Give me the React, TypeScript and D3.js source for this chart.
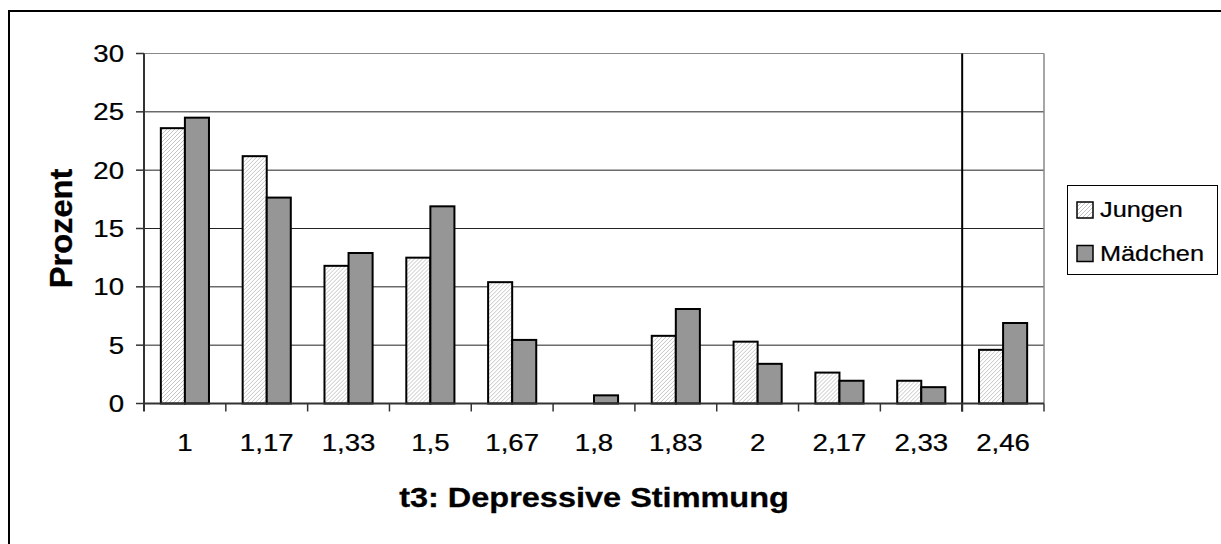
import React from "react";
import * as d3 from "d3";

const width = 1221;
const height = 544;
const plot = { left: 144, right: 1044, top: 53.5, bottom: 403.5 };

const categories = ["1", "1,17", "1,33", "1,5", "1,67", "1,8", "1,83", "2", "2,17", "2,33", "2,46"];
const jungen = [23.6, 21.2, 11.8, 12.5, 10.4, 0, 5.8, 5.3, 2.65, 1.95, 4.6];
const maedchen = [24.5, 17.65, 12.9, 16.9, 5.45, 0.7, 8.1, 3.4, 1.95, 1.4, 6.9];
const seriesNames = ["Jungen", "Mädchen"];
const yTicks = [0, 5, 10, 15, 20, 25, 30];
// a black divider is drawn before this category
const dividerBefore = "2,46";

const font = "'Liberation Sans', Arial, sans-serif";
const stretch = 1.15; // text in the reference is a bit wider than Arial

// text with a little horizontal stretch
const Txt = ({ x, y, size, anchor = "start", bold = false, rotate = 0, sx = stretch, children }: any) => (
  <text
    transform={`translate(${x},${y}) rotate(${rotate}) scale(${sx},1)`}
    fontFamily={font}
    fontSize={size}
    fontWeight={bold ? "bold" : "normal"}
    textAnchor={anchor}
    fill="#000"
    stroke="#000"
    strokeWidth={bold ? 0.3 : 0.25}
  >
    {children}
  </text>
);

export default function App() {
  const x = d3.scaleBand().domain(categories).range([plot.left, plot.right]).padding(0);
  const x1 = d3.scaleBand().domain(seriesNames).range([0, x.bandwidth()]).paddingInner(0).paddingOuter(0.7);
  const y = d3.scaleLinear().domain([0, 30]).range([plot.bottom, plot.top]);

  const fills = ["url(#hatch)", "#969696"];
  const series = [jungen, maedchen];
  const divX = x(dividerBefore) as number;

  return (
    <svg width={width} height={height} style={{ position: "absolute", left: 0, top: 0, background: "#fff" }}>
      <defs>
        <pattern id="hatch" patternUnits="userSpaceOnUse" width={4} height={4}>
          <rect width={4} height={4} fill="#fff" />
          <path d="M-1,1 l2,-2 M0,4 l4,-4 M3,5 l2,-2" stroke="#c4c4c4" strokeWidth={1} />
        </pattern>
      </defs>

      {/* outer chart border */}
      <rect x={9} y={11} width={1230} height={560} fill="#fff" stroke="#000" strokeWidth={2} />

      {/* gridlines */}
      {yTicks.map(t => (
        <line key={t} x1={plot.left} x2={plot.right} y1={y(t)} y2={y(t)}
          stroke={t === 30 ? "#888" : "#222"} strokeWidth={1} />
      ))}
      {/* right plot border */}
      <line x1={plot.right} x2={plot.right} y1={plot.top} y2={plot.bottom} stroke="#888" strokeWidth={1.5} />

      {/* bars */}
      {categories.map((c, i) => (
        <g key={c} transform={`translate(${x(c)},0)`}>
          {series.map((s, k) => s[i] > 0 && (
            <rect key={k}
              x={x1(seriesNames[k])}
              y={y(s[i])}
              width={x1.bandwidth()}
              height={y(0) - y(s[i])}
              fill={fills[k]}
              stroke="#000"
              strokeWidth={2}
            />
          ))}
        </g>
      ))}

      {/* divider */}
      <line x1={divX} x2={divX} y1={plot.top} y2={plot.bottom + 8} stroke="#000" strokeWidth={2} />

      {/* axes */}
      <line x1={plot.left} x2={plot.left} y1={plot.top} y2={plot.bottom + 8} stroke="#333" strokeWidth={2} />
      <line x1={plot.left} x2={plot.right} y1={plot.bottom} y2={plot.bottom} stroke="#333" strokeWidth={2} />
      {yTicks.map(t => (
        <g key={t}>
          <line x1={plot.left - 8} x2={plot.left} y1={y(t)} y2={y(t)} stroke="#333" strokeWidth={1.5} />
          <Txt x={plot.left - 20} y={y(t) + 8.6} size={24} anchor="end">{t}</Txt>
        </g>
      ))}
      {categories.map(c => (
        <g key={c}>
          <line x1={(x(c) as number) + x.bandwidth()} x2={(x(c) as number) + x.bandwidth()}
            y1={plot.bottom} y2={plot.bottom + 8} stroke="#333" strokeWidth={1.5} />
          <Txt x={(x(c) as number) + x.bandwidth() / 2} y={450.5} size={24} anchor="middle">{c}</Txt>
        </g>
      ))}

      {/* axis titles */}
      <Txt x={(plot.left + plot.right) / 2} y={506.5} size={28} bold anchor="middle" sx={1.16}>
        t3: Depressive Stimmung
      </Txt>
      <Txt x={71.5} y={(plot.top + plot.bottom) / 2} size={32} bold anchor="middle" rotate={-90} sx={1.02}>
        Prozent
      </Txt>

      {/* legend */}
      <rect x={1067.5} y={185.5} width={150} height={89} fill="#fff" stroke="#000" strokeWidth={1} />
      {seriesNames.map((n, k) => {
        const ly = 202 + k * 43.5;
        return (
          <g key={n}>
            <rect x={1077} y={ly} width={16} height={16} fill={fills[k]} stroke="#000" strokeWidth={1.5} />
            <Txt x={1100} y={ly + 15} size={22}>{n}</Txt>
          </g>
        );
      })}
    </svg>
  );
}
